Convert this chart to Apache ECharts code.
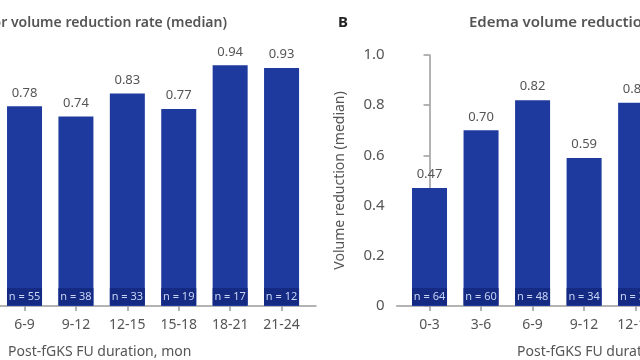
<!DOCTYPE html>
<html><head><meta charset="utf-8">
<script src="https://cdn.jsdelivr.net/npm/echarts@6/dist/echarts.min.js"></script>
<style>html,body{margin:0;padding:0;background:#fff}#c{width:640px;height:360px}</style>
</head><body><div id="c"></div>
<script>
const catsA = ['6-9','9-12','12-15','15-18','18-21','21-24'];
const valsA = [0.78,0.74,0.83,0.77,0.94,0.93];
const nA = [55,38,33,19,17,12];
const catsB = ['0-3','3-6','6-9','9-12','12-15'];
const valsB = [0.47,0.70,0.82,0.59,0.81];
const nB = [64,60,48,34,31];
const yTicks = [0,0.2,0.4,0.6,0.8,1.0];

const FONT = 'Noto Sans';
const GRAY = '#555';
const AX = '#9a9a9a';
const BAR = '#1f3a9f';
const BOX = '#152a82';

function xAxisFor(gridIndex, cats, min, max){
  const idx = cats.map((c,i)=>i);
  return {
    type:'value', gridIndex, min, max,
    axisLine:{show:true, onZero:false, lineStyle:{color:AX, width:1.5}},
    axisTick:{show:true, length:5, lineStyle:{color:AX, width:1.5}, customValues: idx},
    axisLabel:{show:true, customValues: idx, margin:12, color:GRAY, fontSize:14, fontFamily:FONT,
      formatter:v=>cats[Math.round(v)]},
    splitLine:{show:false}
  };
}
function barSeries(ax, vals, ns){
  const data = vals.map((v,i)=>[i,v]);
  return [{
    type:'bar', xAxisIndex:ax, yAxisIndex:ax, data, barWidth:35, barGap:'-100%',
    itemStyle:{color:BAR},
    label:{show:true, position:'top', distance:7, color:GRAY, fontSize:13, fontFamily:FONT,
      formatter:p=>p.value[1].toFixed(2)},
    z:2
  },{
    type:'bar', xAxisIndex:ax, yAxisIndex:ax, data, barWidth:35, barGap:'-100%',
    itemStyle:{color:'rgba(0,0,0,0)'},
    label:{show:true, position:'insideBottom', distance:1, color:'#c8d5f5', fontSize:11, fontFamily:FONT,
      backgroundColor:BOX, width:35, height:17, lineHeight:17, align:'center',
      formatter:p=>'n = '+ns[p.dataIndex]},
    z:3, silent:true
  }];
}

const chart = echarts.init(document.getElementById('c'));
chart.setOption({
  animation:false,
  title:[
    {text:'Tumor volume reduction rate (median)', right:408, top:11, textStyle:{color:GRAY, fontSize:14, fontWeight:600, fontFamily:FONT}},
    {text:'B', left:333, top:10, textStyle:{color:'#222', fontSize:15, fontWeight:'bold', fontFamily:FONT}},
    {text:'Edema volume reduction rate (median)', left:464, top:10, textStyle:{color:GRAY, fontSize:15, fontWeight:600, fontFamily:FONT}},
    {text:'Post-fGKS FU duration, mon', left:3, top:340, textStyle:{color:GRAY, fontSize:14, fontWeight:'normal', fontFamily:FONT}},
    {text:'Post-fGKS FU duration, mon', left:512, top:340, textStyle:{color:GRAY, fontSize:14, fontWeight:'normal', fontFamily:FONT}}
  ],
  grid:[
    {left:0, top:50, width:316, height:256, outerBoundsMode:'none', containLabel:false},
    {left:396.7, top:55, width:275, height:251, outerBoundsMode:'none', containLabel:false}
  ],
  xAxis:[
    xAxisFor(0, catsA, -0.477, 5.67),
    xAxisFor(1, catsB, -0.637, 4.70)
  ],
  yAxis:[
    {type:'value', gridIndex:0, min:0, max:1, interval:0.2, show:false, splitLine:{show:false}},
    {type:'value', gridIndex:1, min:0, max:1, interval:0.2,
     name:'Volume reduction (median)', nameLocation:'middle', nameGap:50,
     nameTextStyle:{color:GRAY, fontSize:14, fontFamily:FONT},
     axisLine:{show:true, lineStyle:{color:AX, width:1.5}},
     axisTick:{show:true, length:6, lineStyle:{color:AX, width:1.5}},
     axisLabel:{margin:12, color:GRAY, fontSize:15, fontFamily:FONT,
       formatter:v=>{const t=yTicks.find(x=>Math.abs(x-v)<1e-6); return t===0?'0':t.toFixed(1);}},
     splitLine:{show:false}}
  ],
  series:[...barSeries(0, valsA, nA), ...barSeries(1, valsB, nB)]
});
</script></body></html>
